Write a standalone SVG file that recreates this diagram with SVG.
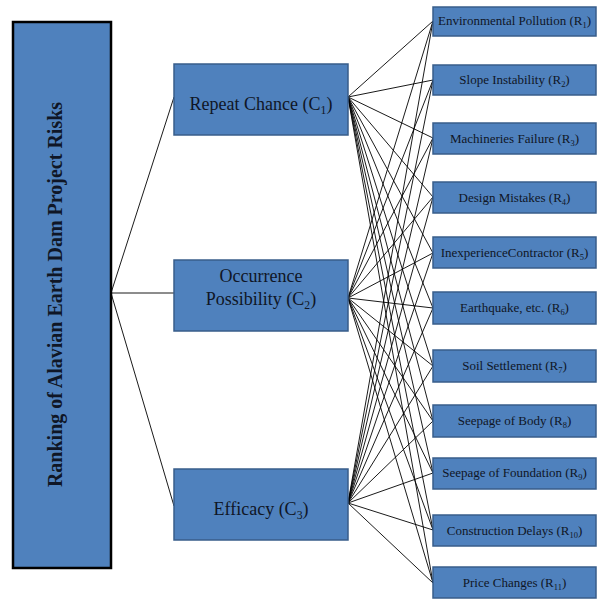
<svg xmlns="http://www.w3.org/2000/svg" width="598" height="600" viewBox="0 0 598 600">
<style>
.box{fill:#4f81bd;stroke:#385d8a;stroke-width:1.5}
.root{fill:#4f81bd;stroke:#000;stroke-width:2.5}
.t{font-family:"Liberation Serif","Times New Roman",serif;fill:#0f1626;text-anchor:middle}
.c{font-size:18px}
.r{font-size:13px}
.title{font-size:20px;font-weight:bold}
.sub{font-size:0.65em}
.ln{stroke:#000;stroke-width:0.9;fill:none}
</style>
<rect width="598" height="600" fill="#fff"/>
<g id="connectors" class="ln">
<line x1="111" y1="293" x2="174" y2="97"/>
<line x1="111" y1="293" x2="174" y2="293"/>
<line x1="111" y1="293" x2="174" y2="506"/>
<path d="M348 97L433 21M348 97L433 80M348 97L433 138M348 97L433 197M348 97L433 253M348 97L433 308M348 97L433 366M348 97L433 421M348 97L433 473M348 97L433 530M348 97L433 583"/>
<path d="M348 298L433 21M348 298L433 80M348 298L433 138M348 298L433 197M348 298L433 253M348 298L433 308M348 298L433 366M348 298L433 421M348 298L433 473M348 298L433 530M348 298L433 583"/>
<path d="M348 503L433 21M348 503L433 80M348 503L433 138M348 503L433 197M348 503L433 253M348 503L433 308M348 503L433 366M348 503L433 421M348 503L433 473M348 503L433 530M348 503L433 583"/>
</g>
<g id="root">
<rect class="root" x="13" y="22" width="98" height="546"/>
<text class="t title" transform="translate(62,294.5) rotate(-90)">Ranking of Alavian Earth Dam Project Risks</text>
</g>
<g id="C1">
<rect class="box" x="174" y="64" width="174" height="71"/>
<text class="t c" x="261" y="110">Repeat Chance (C<tspan class="sub" dy="4">1</tspan><tspan dy="-4">)</tspan></text>
</g>
<g id="C2">
<rect class="box" x="174" y="260" width="174" height="71"/>
<text class="t c" x="261" y="282">Occurrence</text>
<text class="t c" x="261" y="305">Possibility (C<tspan class="sub" dy="4">2</tspan><tspan dy="-4">)</tspan></text>
</g>
<g id="C3">
<rect class="box" x="174" y="469" width="174" height="71"/>
<text class="t c" x="261" y="515">Efficacy (C<tspan class="sub" dy="4">3</tspan><tspan dy="-4">)</tspan></text>
</g>
<g id="R1">
<rect class="box" x="433" y="7" width="163" height="29"/>
<text class="t r" x="514.5" y="25">Environmental Pollution (R<tspan class="sub" dy="3">1</tspan><tspan dy="-3">)</tspan></text>
</g>
<g id="R2">
<rect class="box" x="433" y="65" width="163" height="30"/>
<text class="t r" x="514.5" y="84">Slope Instability (R<tspan class="sub" dy="3">2</tspan><tspan dy="-3">)</tspan></text>
</g>
<g id="R3">
<rect class="box" x="433" y="123" width="163" height="31"/>
<text class="t r" x="514.5" y="143">Machineries Failure (R<tspan class="sub" dy="3">3</tspan><tspan dy="-3">)</tspan></text>
</g>
<g id="R4">
<rect class="box" x="433" y="182" width="163" height="31"/>
<text class="t r" x="514.5" y="202">Design Mistakes (R<tspan class="sub" dy="3">4</tspan><tspan dy="-3">)</tspan></text>
</g>
<g id="R5">
<rect class="box" x="433" y="237" width="163" height="31"/>
<text class="t r" x="514.5" y="257">InexperienceContractor (R<tspan class="sub" dy="3">5</tspan><tspan dy="-3">)</tspan></text>
</g>
<g id="R6">
<rect class="box" x="433" y="292" width="163" height="32"/>
<text class="t r" x="514.5" y="312">Earthquake, etc. (R<tspan class="sub" dy="3">6</tspan><tspan dy="-3">)</tspan></text>
</g>
<g id="R7">
<rect class="box" x="433" y="350" width="163" height="32"/>
<text class="t r" x="514.5" y="370">Soil Settlement (R<tspan class="sub" dy="3">7</tspan><tspan dy="-3">)</tspan></text>
</g>
<g id="R8">
<rect class="box" x="433" y="405" width="163" height="32"/>
<text class="t r" x="514.5" y="425">Seepage of Body (R<tspan class="sub" dy="3">8</tspan><tspan dy="-3">)</tspan></text>
</g>
<g id="R9">
<rect class="box" x="433" y="458" width="163" height="31"/>
<text class="t r" x="514.5" y="477">Seepage of Foundation (R<tspan class="sub" dy="3">9</tspan><tspan dy="-3">)</tspan></text>
</g>
<g id="R10">
<rect class="box" x="433" y="515" width="163" height="31"/>
<text class="t r" x="514.5" y="535">Construction Delays (R<tspan class="sub" dy="3">10</tspan><tspan dy="-3">)</tspan></text>
</g>
<g id="R11">
<rect class="box" x="433" y="567" width="163" height="31"/>
<text class="t r" x="514.5" y="587">Price Changes (R<tspan class="sub" dy="3">11</tspan><tspan dy="-3">)</tspan></text>
</g>
</svg>
